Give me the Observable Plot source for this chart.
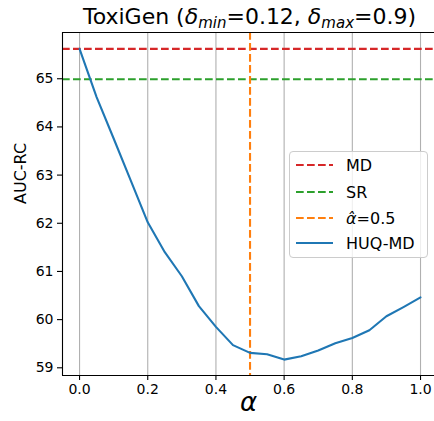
<!DOCTYPE html>
<html><head><meta charset="utf-8">
<script src="https://cdn.jsdelivr.net/npm/d3@7"></script>
<script src="https://cdn.jsdelivr.net/npm/@observablehq/plot@0.6"></script>
<style>
body{margin:0;background:#fff;font-family:"DejaVu Sans",sans-serif;}
#wrap{position:relative;width:434px;height:421px;overflow:hidden;}
#title{position:absolute;left:62px;width:375px;top:3px;text-align:center;font-size:22px;line-height:28px;color:#000;white-space:nowrap;}
#title i{font-style:italic;}
#title sub{font-size:15px;font-style:italic;vertical-align:-4px;line-height:0;}
#legend{position:absolute;left:289px;top:151px;width:137px;height:105px;border:1px solid #cccccc;border-radius:4px;background:rgba(255,255,255,0.8);font-size:16px;color:#000;}
.row{position:absolute;left:0;height:20px;display:flex;align-items:center;}
.row svg{margin-left:6px;}
.row span{margin-left:13px;white-space:nowrap;}
</style></head><body>
<div id="wrap"><div id="chart"></div>
<div id="title">ToxiGen (<i>δ</i><sub>min</sub>=0.12, <i>δ</i><sub>max</sub>=0.9)</div>
<div id="legend"></div></div>
<script>
const alpha = [0, 0.05, 0.1, 0.15, 0.2, 0.25, 0.3, 0.35, 0.4, 0.45, 0.5, 0.55, 0.6, 0.65, 0.7, 0.75, 0.8, 0.85, 0.9, 0.95, 1.0];
const huqMD = [65.62, 64.62, 63.76, 62.89, 62.02, 61.40, 60.90, 60.28, 59.85, 59.47, 59.31, 59.28, 59.17, 59.24, 59.36, 59.51, 59.62, 59.78, 60.07, 60.26, 60.46];
const mdValue = [65.62];
const srValue = [64.99];
const alphaHat = [0.5];
const xTicks = [0, 0.2, 0.4, 0.6, 0.8, 1.0];
const yTicks = [59, 60, 61, 62, 63, 64, 65];
const xDomain = [-0.05, 1.041];
const yDomain = [58.84, 65.96];
const legendLabels = ["MD", "SR", "<i>α̂</i>=0.5", "HUQ-MD"];
const colors = {md: "#d62728", sr: "#2ca02c", hat: "#ff7f0e", huq: "#1f77b4"};

const data = alpha.map((a, i) => ({alpha: a, value: huqMD[i]}));

const chart = Plot.plot({
  width: 434,
  height: 421,
  marginTop: 32,
  marginBottom: 46,
  marginLeft: 62,
  marginRight: 0,
  style: {fontFamily: "DejaVu Sans", fontSize: "14px", color: "#000", background: "#fff"},
  x: {domain: xDomain},
  y: {domain: yDomain},
  marks: [
    Plot.gridX(xTicks, {stroke: "#b0b0b0", strokeOpacity: 1, strokeWidth: 1.1}),
    Plot.ruleY(mdValue, {stroke: colors.md, strokeWidth: 2.1, strokeDasharray: "7.7,3.3"}),
    Plot.ruleY(srValue, {stroke: colors.sr, strokeWidth: 2.1, strokeDasharray: "7.7,3.3"}),
    Plot.ruleX(alphaHat, {stroke: colors.hat, strokeWidth: 2.1, strokeDasharray: "7.7,3.3"}),
    Plot.line(data, {x: "alpha", y: "value", stroke: colors.huq, strokeWidth: 2.1}),
    Plot.ruleX([xDomain[0]], {stroke: "#000", strokeWidth: 1.1}),
    Plot.ruleY([yDomain[0]], {stroke: "#000", strokeWidth: 1.1}),
    Plot.ruleY([yDomain[1]], {stroke: "#000", strokeWidth: 1.1}),
    Plot.axisX(xTicks, {tickFormat: d3.format(".1f"), tickSize: 5, tickPadding: 4, fontSize: 14, label: null, strokeWidth: 1.1}),
    Plot.axisY(yTicks, {tickFormat: d3.format("d"), tickSize: 5, tickPadding: 4, fontSize: 14, label: null, strokeWidth: 1.1}),
    Plot.text(["AUC-RC"], {frameAnchor: "left", rotate: -90, dx: -42, fontSize: 16, fill: "#000"}),
    Plot.text(["α"], {frameAnchor: "bottom", dy: 35, fontSize: 26, fontStyle: "italic", fill: "#000"})
  ]
});
document.getElementById("chart").appendChild(chart);

const legend = document.getElementById("legend");
const swatches = [
  {c: colors.md, dash: "7.7,3.3"},
  {c: colors.sr, dash: "7.7,3.3"},
  {c: colors.hat, dash: "7.7,3.3"},
  {c: colors.huq, dash: null}
];
const rowY = [13, 40, 66, 91];
legendLabels.forEach((lab, i) => {
  const row = document.createElement("div");
  row.className = "row";
  row.style.top = (rowY[i] - 10) + "px";
  const s = swatches[i];
  row.innerHTML = `<svg width="37" height="6"><line x1="0" x2="37" y1="3" y2="3" stroke="${s.c}" stroke-width="2.1" ${s.dash ? `stroke-dasharray="${s.dash}"` : ""}/></svg><span>${lab}</span>`;
  legend.appendChild(row);
});
</script>
</body></html>
